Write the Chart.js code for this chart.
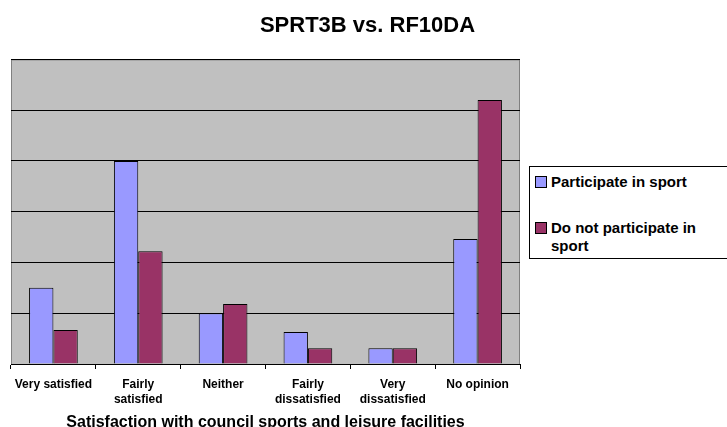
<!DOCTYPE html>
<html>
<head>
<meta charset="utf-8">
<script src="https://cdn.jsdelivr.net/npm/chart.js@4.4.0/dist/chart.umd.min.js"></script>
<style>
  body { margin: 0; background: #fff; }
  #wrap { position: relative; width: 727px; height: 427px; overflow: hidden; }
  #legend {
    position: absolute; left: 529px; top: 166px; width: 197px; height: 91px;
    border: 1px solid #000; background: #fff; box-sizing: content-box;
    font: bold 15px "Liberation Sans", Arial, sans-serif; color: #000;
  }
  .item { position: absolute; left: 5px; padding-left: 16px; line-height: 18px; }
  .sw { position: absolute; left: 0; top: 3px; width: 10px; height: 10px; border: 1px solid #000; }
</style>
</head>
<body>
<div id="wrap">
  <canvas id="barChart" width="727" height="427"></canvas>
  <div id="legend"></div>
</div>
<script>
var categories = ['Very satisfied', ['Fairly', 'satisfied'], 'Neither', ['Fairly', 'dissatisfied'], ['Very', 'dissatisfied'], 'No opinion'];
var participate = [15, 40, 10, 6.3, 3.1, 24.6];
var notParticipate = [6.7, 22.2, 11.8, 3.1, 3.1, 52];
var seriesNames = ['Participate in sport', 'Do not participate in sport'];
var seriesColors = ['#9999FF', '#993366'];

var plotBg = {
  id: 'plotBg',
  afterLayout: function(chart) {
    // centre the title over the whole picture, not just the plot
    if (chart.titleBlock) {
      chart.titleBlock.left = 8;
      chart.titleBlock.right = 727;
    }
  },
  beforeDraw: function(chart) {
    var a = chart.chartArea, c = chart.ctx;
    c.save();
    c.fillStyle = '#C0C0C0';
    c.fillRect(a.left, a.top, a.right - a.left, a.bottom - a.top);
    c.strokeStyle = '#808080';
    c.lineWidth = 1;
    c.strokeRect(a.left + 0.5, a.top + 0.5, a.right - a.left - 1, a.bottom - a.top);
    c.restore();
  }
};

var ctx = document.getElementById('barChart').getContext('2d');
var chart = new Chart(ctx, {
  type: 'bar',
  data: {
    labels: categories,
    datasets: [
      { label: seriesNames[0], data: participate, backgroundColor: seriesColors[0], borderColor: '#000', borderWidth: 1 },
      { label: seriesNames[1], data: notParticipate, backgroundColor: seriesColors[1], borderColor: '#000', borderWidth: 1 }
    ]
  },
  options: {
    responsive: false,
    animation: false,
    categoryPercentage: 0.574,
    barPercentage: 1,
    layout: { padding: { left: 11, right: 207, top: 0, bottom: 0 } },
    plugins: {
      legend: { display: false },
      tooltip: { enabled: false },
      title: {
        display: true,
        text: 'SPRT3B vs. RF10DA',
        color: '#000',
        font: { family: '"Liberation Sans", Arial', size: 22, weight: 'bold' },
        padding: { top: 13, bottom: 20 }
      }
    },
    scales: {
      x: {
        offset: true,
        afterFit: function(scale) { scale.height = 63; },
        grid: { display: true, drawOnChartArea: false, drawTicks: true, tickLength: 5, color: '#000', offset: true },
        border: { display: true, color: '#000' },
        ticks: {
          color: '#000', maxRotation: 0, autoSkip: false, padding: 8,
          font: { family: '"Liberation Sans", Arial', size: 12, weight: 'bold', lineHeight: 1.25 }
        },
        title: {
          display: true,
          text: 'Satisfaction with council sports and leisure facilities',
          color: '#000',
          font: { family: '"Liberation Sans", Arial', size: 16, weight: 'bold' },
          padding: { top: 4, bottom: -5 }
        }
      },
      y: {
        min: 0, max: 60,
        ticks: { display: false, stepSize: 10 },
        grid: { color: '#000', drawTicks: false },
        border: { display: false }
      }
    }
  },
  plugins: [plotBg]
});

// legend box with wrapped text
var leg = document.getElementById('legend');
var tops = [6, 52];
var html = '';
for (var i = 0; i < seriesNames.length; i++) {
  var txt = i === 1 ? 'Do not participate in<br>sport' : seriesNames[i];
  html += '<div class="item" style="top:' + tops[i] + 'px"><span class="sw" style="background:' + seriesColors[i] + '"></span>' + txt + '</div>';
}
leg.innerHTML = html;
</script>
</body>
</html>
